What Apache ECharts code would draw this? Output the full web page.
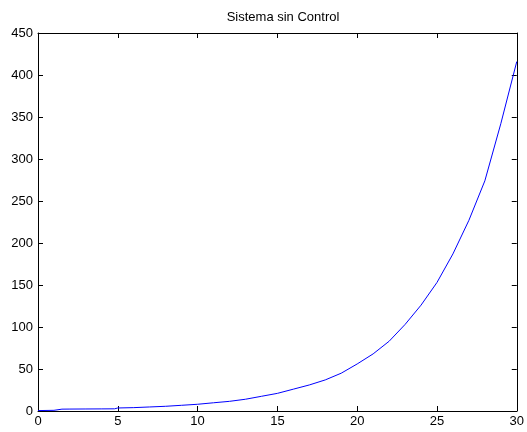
<!DOCTYPE html>
<html>
<head>
<meta charset="utf-8">
<script src="https://cdn.jsdelivr.net/npm/echarts@6/dist/echarts.min.js"></script>
<style>
html,body{margin:0;padding:0;background:#fff;}
#chart{width:527px;height:432px;}
</style>
</head>
<body>
<div id="chart"></div>
<script>
const titleText = 'Sistema sin Control';
const timeValues = [0, 1, 1.5, 2, 3, 4, 4.8, 5, 6, 7, 8, 9, 10, 11, 12, 13, 14, 15, 16, 17, 18, 19, 20, 21, 22, 23, 24, 25, 26, 27, 28, 29, 30];
const stateValues = [0.5, 0.8, 2.2, 2.3, 2.4, 2.5, 2.6, 3.6, 4, 4.8, 5.6, 6.8, 8, 9.8, 11.5, 14, 17.5, 21, 26, 31, 37, 45, 56, 68, 83, 103, 126, 153, 187, 227, 274, 342, 416];
const xTicks = [0, 5, 10, 15, 20, 25, 30];
const yTicks = [0, 50, 100, 150, 200, 250, 300, 350, 400, 450];

const chart = echarts.init(document.getElementById('chart'), null, {renderer: 'canvas'});
const font = 'Liberation Sans, Arial, sans-serif';
const axisCommon = {
  type: 'value',
  axisLine: {show: true, onZero: false, lineStyle: {color: '#000', width: 1}},
  axisTick: {show: true, inside: true, length: 5, lineStyle: {color: '#000'}},
  splitLine: {show: false},
  axisLabel: {show: false}
};
chart.setOption({
  animation: false,
  backgroundColor: '#fff',
  title: {
    text: titleText, left: 278, top: 6, textAlign: 'center',
    textStyle: {fontFamily: font, fontSize: 13, fontWeight: 'normal', color: '#000'}
  },
  grid: {left: 38, right: 10, top: 33, bottom: 21, containLabel: false},
  xAxis: [
    Object.assign({}, axisCommon, {
      position: 'bottom', min: xTicks[0], max: xTicks[xTicks.length - 1], interval: 5,
      axisLabel: {show: true, color: '#000', fontFamily: font, fontSize: 13, margin: 4}
    }),
    Object.assign({}, axisCommon, {
      position: 'top', min: xTicks[0], max: xTicks[xTicks.length - 1], interval: 5
    })
  ],
  yAxis: [
    Object.assign({}, axisCommon, {
      position: 'left', min: yTicks[0], max: yTicks[yTicks.length - 1], interval: 50,
      axisLabel: {show: true, color: '#000', fontFamily: font, fontSize: 13, margin: 5}
    }),
    Object.assign({}, axisCommon, {
      position: 'right', min: yTicks[0], max: yTicks[yTicks.length - 1], interval: 50
    })
  ],
  series: [{
    type: 'line',
    xAxisIndex: 0, yAxisIndex: 0,
    data: timeValues.map((t, i) => [t, stateValues[i]]),
    showSymbol: false,
    symbol: 'none',
    smooth: false,
    lineStyle: {color: '#0000ff', width: 1}
  }]
});
</script>
</body>
</html>
